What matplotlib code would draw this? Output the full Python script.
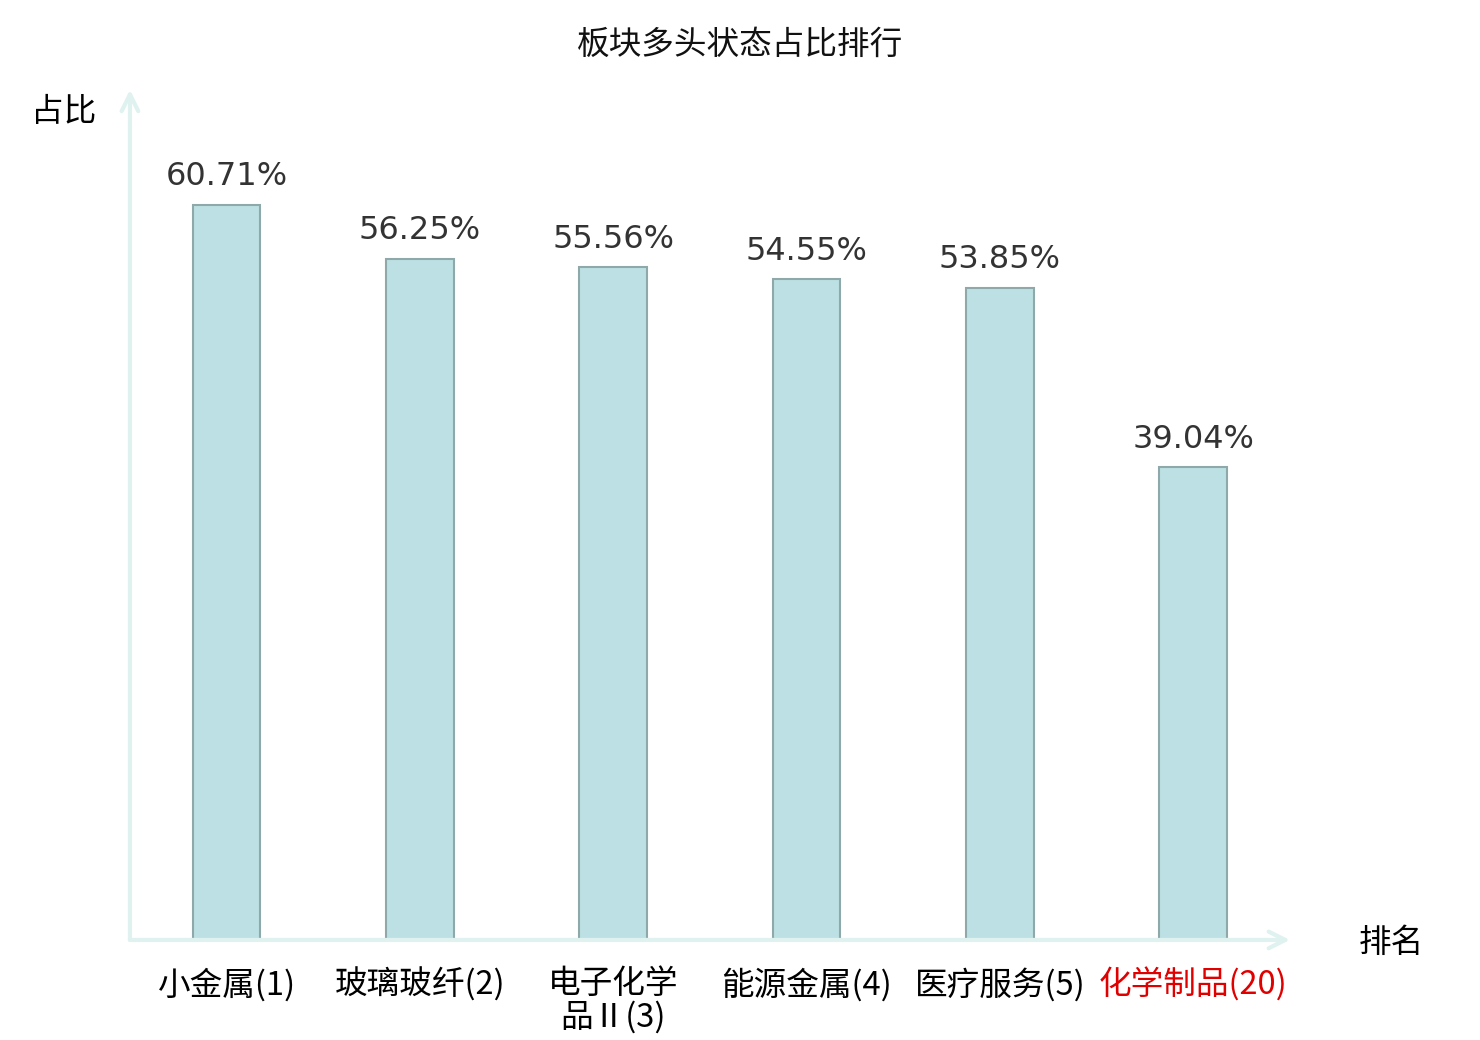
import matplotlib
matplotlib.use("Agg")
import matplotlib.pyplot as plt

plt.rcParams['font.family'] = ['Noto Sans CJK SC', 'DejaVu Sans']

categories = ['小金属(1)', '玻璃玻纤(2)', '电子化学\n品Ⅱ(3)', '能源金属(4)', '医疗服务(5)', '化学制品(20)']
values = [60.71, 56.25, 55.56, 54.55, 53.85, 39.04]
label_colors = ['#000000'] * 5 + ['#e00000']

axis_color = '#dff2ef'

fig = plt.figure(figsize=(14.8, 10.4), dpi=100)
ax = fig.add_axes([0.0878, 0.0962, 0.7838, 0.815])

x = list(range(len(categories)))
bars = ax.bar(x, values, width=0.35, color='#bce0e3', edgecolor='#8fa9ab', linewidth=1.5, zorder=3)
ax.bar_label(bars, labels=[f'{v:.2f}%' for v in values], padding=9,
             fontsize=23, color='#333333', family='DejaVu Sans')

ax.set_xlim(-0.5, 5.5)
ax.set_ylim(0, 70)
ax.set_xticks(x)
ax.set_xticklabels(categories, fontsize=23.5, linespacing=1.05)
for lbl, c in zip(ax.get_xticklabels(), label_colors):
    lbl.set_color(c)
ax.tick_params(axis='x', length=0, pad=20)
ax.set_yticks([])
for s in ax.spines.values():
    s.set_visible(False)

# axis arrows
ax.annotate('', xy=(0, 1.003), xytext=(0, 0), xycoords='axes fraction',
            arrowprops=dict(arrowstyle='->', color=axis_color, lw=3, mutation_scale=30,
                            shrinkA=0, shrinkB=0), annotation_clip=False)
ax.annotate('', xy=(1.0, 0), xytext=(0, 0), xycoords='axes fraction',
            arrowprops=dict(arrowstyle='->', color=axis_color, lw=3, mutation_scale=30,
                            shrinkA=0, shrinkB=0), annotation_clip=False)

fig.text(0.5, 0.957, '板块多头状态占比排行', ha='center', va='center', fontsize=23.5, color='#111111')
fig.text(0.043, 0.892, '占比', ha='center', va='center', fontsize=23.5)
fig.text(0.94, 0.093, '排名', ha='center', va='center', fontsize=23.5)

fig.savefig('out.png', dpi=100)
